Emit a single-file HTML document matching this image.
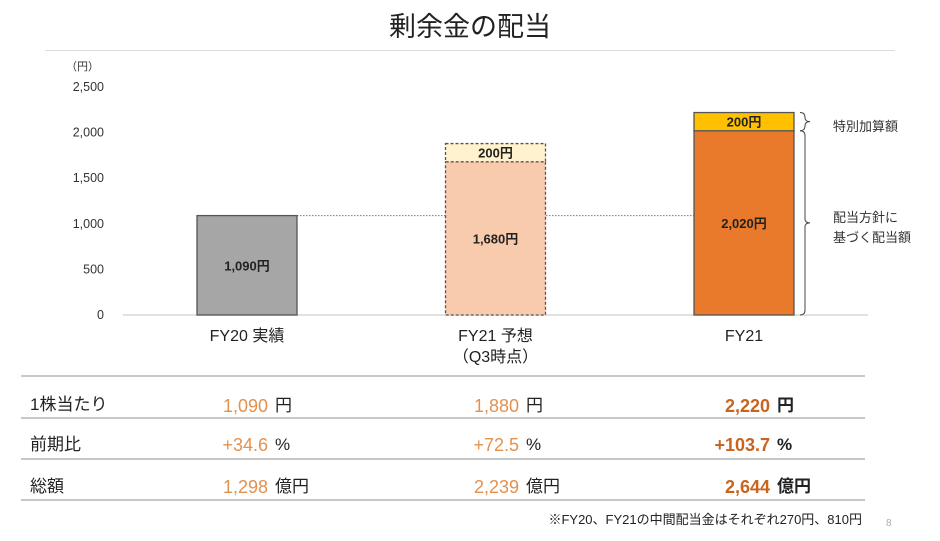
<!DOCTYPE html>
<html><head><meta charset="utf-8"><style>
body{margin:0;width:940px;height:541px;background:#fff;font-family:"Liberation Sans","Noto Sans CJK JP",sans-serif;position:relative;overflow:hidden;color:#222}
.a{position:absolute;white-space:nowrap;line-height:22px}
.row{position:absolute;left:21px;width:844px;height:2px;background:#c8c8c8}
.lab{font-size:17px;left:30px}
.n{color:#E3914F;font-size:18px}
.b{color:#C8641E;font-weight:bold;font-size:18px}
.u{font-size:17px}
.ub{font-size:17px;font-weight:bold}
</style></head><body>
<div class="a" style="left:0;width:940px;text-align:center;top:10px;font-size:27px;line-height:34px">剰余金の配当</div>
<div class="a" style="left:45px;top:50px;width:850px;height:1px;background:#ddd"></div>
<svg class="a" style="left:0;top:0" width="940" height="370" id="chart"></svg>
<div class="row" style="top:375px"></div>
<div class="row" style="top:417px"></div>
<div class="row" style="top:458px"></div>
<div class="row" style="top:499px"></div>
<div class="a lab" style="top:394px">1株当たり</div>
<div class="a lab" style="top:434px">前期比</div>
<div class="a lab" style="top:476px">総額</div>

<div class="a n" style="top:395px;right:672px">1,090</div>
<div class="a u" style="top:395px;left:275px">円</div>
<div class="a n" style="top:395px;right:421px">1,880</div>
<div class="a u" style="top:395px;left:526px">円</div>
<div class="a b" style="top:395px;right:170px">2,220</div>
<div class="a ub" style="top:395px;left:777px">円</div>

<div class="a n" style="top:434px;right:672px">+34.6</div>
<div class="a u" style="top:434px;left:275px">%</div>
<div class="a n" style="top:434px;right:421px">+72.5</div>
<div class="a u" style="top:434px;left:526px">%</div>
<div class="a b" style="top:434px;right:170px">+103.7</div>
<div class="a ub" style="top:434px;left:777px">%</div>

<div class="a n" style="top:476px;right:672px">1,298</div>
<div class="a u" style="top:476px;left:275px">億円</div>
<div class="a n" style="top:476px;right:421px">2,239</div>
<div class="a u" style="top:476px;left:526px">億円</div>
<div class="a b" style="top:476px;right:170px">2,644</div>
<div class="a ub" style="top:476px;left:777px">億円</div>

<div class="a" style="top:509px;right:78px;font-size:13px">※FY20、FY21の中間配当金はそれぞれ270円、810円</div>
<div class="a" style="top:513px;left:886px;font-size:10px;color:#aaa">8</div>
<script>
const categories=["FY20 実績","FY21 予想|（Q3時点）","FY21"];
const baseValues=[1090,1680,2020];
const specialValues=[0,200,200];
const ticks=[0,500,1000,1500,2000,2500];
const svg=document.getElementById('chart');
const NS='http://www.w3.org/2000/svg';
const y0=315,ppu=228/2500;
const y=v=>y0-v*ppu;
const cx=i=>247+i*248.5;
const bw=100;
function mk(t,at){const e=document.createElementNS(NS,t);for(const k in at)e.setAttribute(k,at[k]);svg.appendChild(e);return e;}
let t=mk('text',{x:99,y:70,'font-size':11,'text-anchor':'end',fill:'#333'});t.textContent='（円）';

ticks.forEach(v=>{const e=mk('text',{x:104,y:y(v)+4,'font-size':12.5,'text-anchor':'end',fill:'#333'});e.textContent=v.toLocaleString('en-US');

});
const ax=mk('line',{x1:123,x2:868,y1:y0,y2:y0,stroke:'#d9d9d9','stroke-width':1.5});


const dl=mk('line',{x1:cx(0)+bw/2,x2:cx(2)-bw/2,y1:y(baseValues[0]),y2:y(baseValues[0]),stroke:'#777','stroke-dasharray':'1.5 1.5'});


const baseFill=['#A6A6A6','#F8CBAD','#E97A2B'],topFill=['#FFF2CC','#FFF2CC','#FFC000'];
categories.forEach((c,i)=>{
 const x=cx(i)-bw/2,dash=i===1?'3 2':'none';
 const r=mk('rect',{x:x,y:y(baseValues[i]),width:bw,height:baseValues[i]*ppu,fill:baseFill[i],stroke:'#555','stroke-width':1.3,'stroke-dasharray':dash});
 
 
 const l=mk('text',{x:cx(i),y:y(baseValues[i]/2)+5,'font-size':13,'font-weight':'bold','text-anchor':'middle',fill:'#222'});l.textContent=baseValues[i].toLocaleString('en-US')+'円';
 
 
 if(specialValues[i]>0){
  const top=baseValues[i]+specialValues[i];
  const s=mk('rect',{x:x,y:y(top),width:bw,height:specialValues[i]*ppu,fill:topFill[i],stroke:'#555','stroke-width':1.3,'stroke-dasharray':dash});
  
  
  const sl=mk('text',{x:cx(i),y:y(baseValues[i]+specialValues[i]/2)+5,'font-size':13,'font-weight':'bold','text-anchor':'middle',fill:'#222'});sl.textContent=specialValues[i]+'円';
  
  
 }
 c.split('|').forEach((p,j)=>{const e=mk('text',{x:cx(i),y:341+j*21,'font-size':16,'text-anchor':'middle',fill:'#222'});e.textContent=p;
 
 });
});
const bx=cx(2)+bw/2+6;
function brace(ya,yb,nm){const m=(ya+yb)/2;const p=mk('path',{d:`M${bx},${ya} q5,0 5,5 V${m-4} q0,4 5,4 q-5,0 -5,4 V${yb-5} q0,5 -5,5`,fill:'none',stroke:'#444','stroke-width':1});

}
brace(y(baseValues[2]+specialValues[2]),y(baseValues[2]),'special-brace');
brace(y(baseValues[2]),y0,'base-brace');
[['特別加算額',131],['配当方針に',222],['基づく配当額',242]].forEach(a=>{const e=mk('text',{x:833,y:a[1],'font-size':13,fill:'#333'});e.textContent=a[0];

});
</script>
</body></html>
